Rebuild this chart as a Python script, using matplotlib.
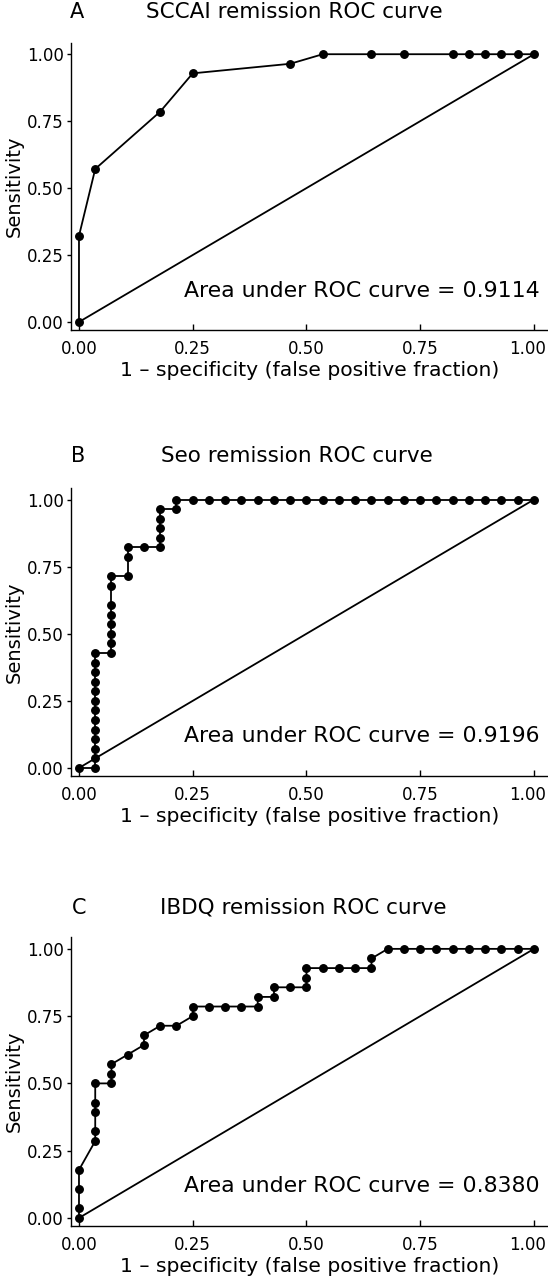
import matplotlib
matplotlib.use("Agg")
import matplotlib.pyplot as plt
import matplotlib.transforms as mtransforms
import numpy as np

plt.rcParams['font.family'] = ['DejaVu Sans']

N = 28.0
# Panel A: SCCAI (counts out of 28)
a_fp = [0, 0, 1, 5, 7, 13, 15, 18, 20, 23, 24, 25, 26, 27, 28]
a_tp = [0, 9, 16, 22, 26, 27, 28, 28, 28, 28, 28, 28, 28, 28, 28]
# Panel B: Seo
b_fp = [0, 1] + [1] * 12 + [2] * 6 + [2, 2, 3, 3, 3, 4] + [5] * 5 + [6, 6] + list(range(7, 29))
b_tp = [0, 0] + list(range(1, 13)) + list(range(12, 18)) + [19, 20, 20, 22, 23, 23] + [23, 24, 25, 26, 27] + [27, 28] + [28] * 22
# Panel C: IBDQ
c_fp = [0, 0, 0, 0, 1, 1, 1, 1, 1, 2, 2, 2, 3, 4, 4, 5, 6, 7, 7, 8, 9, 10, 11, 11,
        12, 12, 13, 14, 14, 14, 15, 16, 17, 18, 18] + list(range(19, 29))
c_tp = [0, 1, 3, 5, 8, 9, 11, 12, 14, 14, 15, 16, 17, 18, 19, 20, 20, 21, 22, 22, 22, 22, 22, 23,
        23, 24, 24, 24, 25, 26, 26, 26, 26, 26, 27] + [28] * 10

letters = ["A", "B", "C"]
titles = ["SCCAI remission ROC curve", "Seo remission ROC curve", "IBDQ remission ROC curve"]
aucs = ["0.9114", "0.9196", "0.8380"]
ticks = [0.0, 0.25, 0.5, 0.75, 1.0]
tick_labels = ["0.00", "0.25", "0.50", "0.75", "1.00"]

W, H = 548, 1280
fig = plt.figure(figsize=(W / 100, H / 100), dpi=100)

# axes boxes in pixels: (top, bottom)
boxes = [(42.7, 330.0), (488.0, 776.0), (937.3, 1226.0)]
letter_pos = [(77, 12), (78.5, 455.5), (79, 908)]
title_left = [146, 161, 160]
left_px = 70.7

data = [(a_fp, a_tp), (b_fp, b_tp), (c_fp, c_tp)]
for i, (fp, tp) in enumerate(data):
    top, bot = boxes[i]
    ax = fig.add_axes([left_px / W, 1 - bot / H, 1 - left_px / W, (bot - top) / H])
    x = np.array(fp) / N
    y = np.array(tp) / N
    ax.plot([0, 1], [0, 1], color='black', lw=1.3)
    ax.plot(x, y, color='black', lw=1.3, marker='o', ms=5.4, mfc='black', mec='black')
    ax.set_xlim(-0.0182, 1.0308)
    ax.set_ylim(-0.03, 1.043)
    for s in ['top', 'right']:
        ax.spines[s].set_visible(False)
    for s in ['left', 'bottom']:
        ax.spines[s].set_linewidth(1.0)
    ax.set_xticks(ticks)
    ax.set_xticklabels(tick_labels)
    ax.set_yticks(ticks)
    ax.set_yticklabels(tick_labels)
    ax.tick_params(axis='x', direction='in', length=4, width=1.0, pad=7, labelsize=12)
    ax.tick_params(axis='y', direction='out', length=3, width=1.0, pad=2, labelsize=12)
    last = ax.get_xticklabels()[-1]
    last.set_transform(last.get_transform() + mtransforms.ScaledTranslation(-6 / 100, 0, fig.dpi_scale_trans))
    ax.set_xlabel("1 \u2013 specificity (false positive fraction)", fontsize=14.6, labelpad=2)
    ax.set_ylabel("Sensitivity", fontsize=14, labelpad=2)
    ax.text(1.012, 0.095, "Area under ROC curve = " + aucs[i], ha='right', va='baseline', fontsize=15.8)
    lx, ly = letter_pos[i]
    fig.text(lx / W, 1 - ly / H, letters[i], ha='center', va='center', fontsize=15)
    fig.text(title_left[i] / W, 1 - ly / H, titles[i], ha='left', va='center', fontsize=15.5)

fig.savefig("out.png", dpi=100)
